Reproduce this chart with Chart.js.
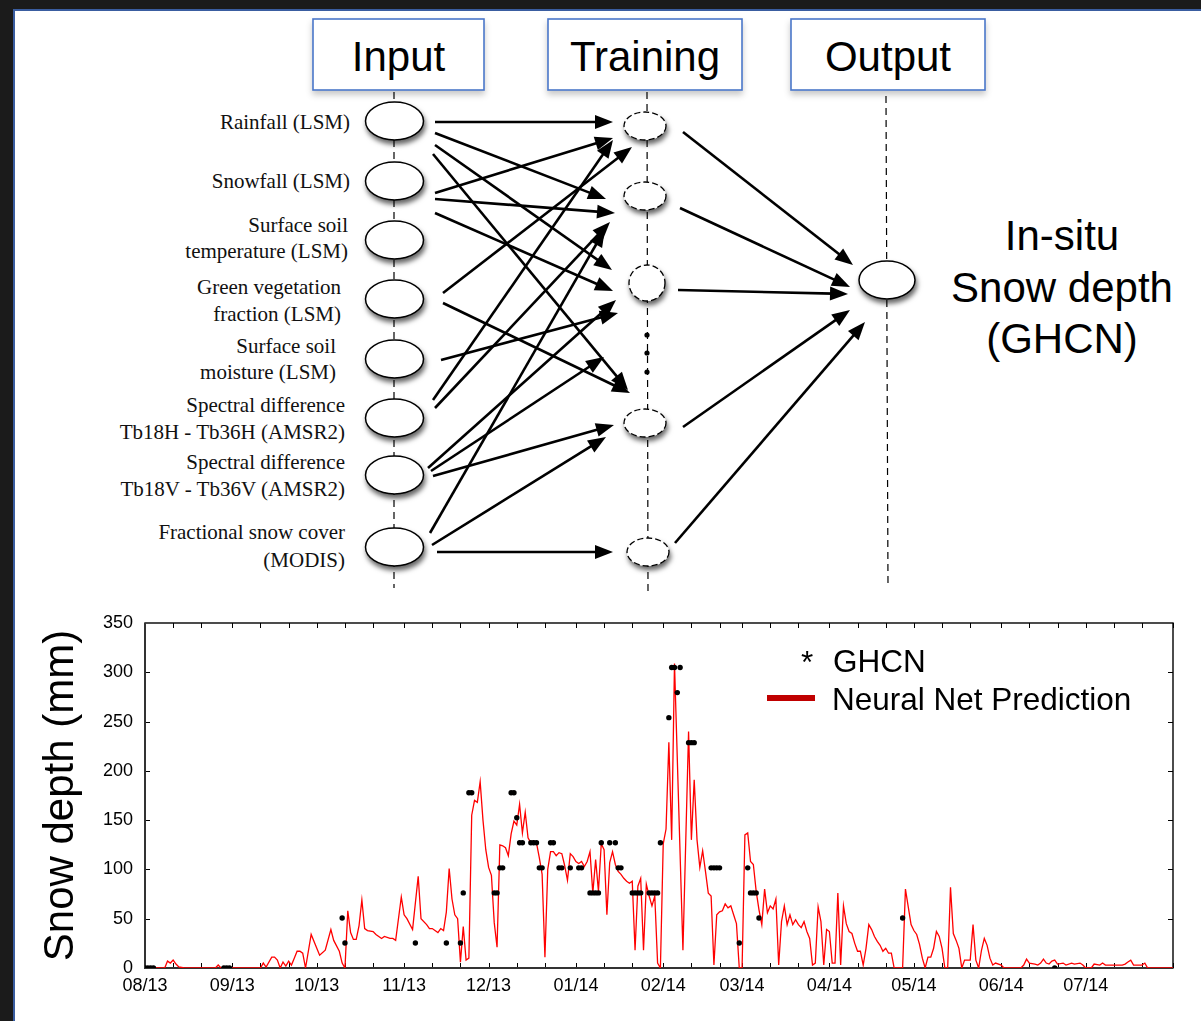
<!DOCTYPE html>
<html>
<head>
<meta charset="utf-8">
<title>Snow depth neural network</title>
<script src="https://cdn.jsdelivr.net/npm/chart.js@4.4.1/dist/chart.umd.min.js"></script>
<style>
  html, body { margin: 0; padding: 0; }
  body { width: 1201px; height: 1021px; background: #1b1b1b; position: relative; overflow: hidden; }
  #panel {
    position: absolute; left: 13px; top: 9px; width: 1188px; height: 1012px;
    background: #fff; border-top: 2px solid #3a5da0; border-left: 2px solid #3a5da0;
    box-sizing: border-box;
  }
  #diagram { position: absolute; left: 0; top: 0; }
  #chartBox { position: absolute; left: 0; top: 600px; width: 1201px; height: 421px; }
</style>
</head>
<body>
<div id="panel"></div>
<svg id="diagram" width="1201" height="600" xmlns="http://www.w3.org/2000/svg">
  <defs>
    <filter id="nodeShadow" x="-40%" y="-40%" width="180%" height="200%">
      <feDropShadow dx="1.5" dy="4" stdDeviation="2.5" flood-color="#000" flood-opacity="0.6"/>
    </filter>
    <filter id="boxShadow" x="-10%" y="-20%" width="120%" height="160%">
      <feDropShadow dx="0" dy="4" stdDeviation="3" flood-color="#000" flood-opacity="0.22"/>
    </filter>
  </defs>
</svg>
<div id="chartBox"><canvas id="snowChart"></canvas></div>

<script>
// ---- network diagram ----
const layerTitles = ['Input', 'Training', 'Output'];
const inputLabels = [
  ['Rainfall (LSM)'],
  ['Snowfall (LSM)'],
  ['Surface soil', 'temperature (LSM)'],
  ['Green vegetation', 'fraction (LSM)'],
  ['Surface soil', 'moisture (LSM)'],
  ['Spectral difference', 'Tb18H - Tb36H (AMSR2)'],
  ['Spectral difference', 'Tb18V - Tb36V (AMSR2)'],
  ['Fractional snow cover', '(MODIS)']
];
const outputLabel = ['In-situ', 'Snow depth', '(GHCN)'];

// ---- chart data: days since 2013-08-01 ----
const monthStart = [0, 31, 61, 92, 122, 153, 184, 212, 243, 273, 304, 334];
const monthLabels = ['08/13', '09/13', '10/13', '11/13', '12/13', '01/14', '02/14', '03/14', '04/14', '05/14', '06/14', '07/14'];

const predDay = [
  0, 7, 8, 9, 10, 11, 12, 14, 25, 26, 27, 41, 42, 43, 45, 46, 47, 48, 49, 50,
  51, 52, 53, 54, 55, 56, 57, 59, 62, 64, 66, 67, 69, 70, 71, 72, 73, 74, 75, 76,
  77, 78, 79, 81, 82, 84, 85, 87, 88, 89, 91, 92, 93, 95, 97, 98, 100, 101, 102, 104,
  105, 106, 107, 108, 109, 110, 111, 112, 113, 114, 115, 116, 117, 118, 119, 120, 121, 122, 123, 124,
  125, 126, 127, 128, 129, 130, 131, 132, 133, 134, 135, 136, 137, 138, 139, 140, 141, 142, 143, 144,
  145, 146, 147, 148, 149, 150, 151, 152, 153, 154, 155, 156, 157, 158, 159, 160, 161, 162, 163, 164,
  165, 166, 167, 168, 169, 170, 171, 172, 173, 174, 175, 176, 177, 178, 179, 180, 181, 182, 183, 184,
  185, 186, 187, 188, 191, 193, 194, 195, 196, 197, 198, 199, 200, 201, 202, 203, 204, 205, 206, 207,
  208, 209, 210, 211, 212, 213, 214, 215, 216, 217, 218, 219, 220, 221, 222, 223, 224, 225, 226, 227,
  228, 229, 230, 231, 232, 233, 234, 235, 236, 237, 238, 239, 240, 241, 242, 243, 244, 245, 246, 247,
  248, 249, 250, 251, 252, 253, 254, 255, 256, 257, 258, 259, 260, 261, 262, 263, 264, 265, 266, 269,
  270, 271, 272, 273, 274, 275, 276, 277, 278, 279, 280, 281, 282, 283, 284, 285, 286, 287, 288, 289,
  290, 291, 293, 294, 295, 296, 297, 298, 299, 300, 301, 302, 304, 305, 311, 312, 313, 314, 316, 317,
  318, 319, 320, 321, 322, 323, 324, 326, 327, 329, 330, 332, 333, 334, 336, 337, 339, 340, 341, 343,
  345, 347, 348, 349, 350, 351, 353, 354, 355, 356, 365
];
const predDepth = [
  0, 0, 7, 5, 8, 4, 1, 0, 0, 3, 0, 0, 5, 1, 11, 11, 8, 0, 6, 2,
  7, 3, 10, 17, 17, 15, 0, 34, 13, 18, 39, 28, 17, 5, 0, 58, 36, 29, 29, 43,
  69, 40, 38, 37, 34, 30, 32, 30, 30, 28, 72, 54, 50, 39, 93, 50, 44, 40, 40, 36,
  40, 38, 57, 101, 70, 54, 50, 6, 42, 8, 10, 155, 170, 168, 189, 150, 120, 102, 94, 46,
  21, 125, 124, 122, 114, 136, 149, 145, 166, 137, 158, 132, 127, 129, 127, 112, 95, 11, 100, 118,
  118, 114, 117, 116, 104, 89, 116, 113, 108, 106, 108, 103, 108, 118, 76, 110, 78, 126, 120, 54,
  107, 118, 105, 98, 95, 91, 88, 86, 88, 18, 83, 91, 18, 85, 73, 63, 73, 5, 0, 126,
  141, 229, 130, 309, 18, 240, 130, 191, 130, 102, 119, 98, 76, 73, 3, 54, 57, 58, 65, 61,
  63, 54, 45, 0, 0, 135, 137, 108, 105, 78, 59, 44, 80, 56, 63, 60, 70, 3, 47, 63,
  44, 54, 44, 49, 44, 41, 47, 37, 30, 3, 5, 62, 47, 3, 39, 37, 5, 5, 76, 3,
  63, 45, 37, 35, 25, 17, 17, 3, 20, 44, 39, 32, 27, 23, 17, 20, 15, 15, 0, 0,
  80, 62, 44, 38, 34, 24, 10, 0, 11, 11, 20, 37, 32, 20, 0, 0, 82, 35, 28, 20,
  0, 8, 8, 44, 8, 0, 18, 30, 23, 10, 3, 5, 3, 0, 0, 3, 9, 5, 4, 3,
  5, 9, 5, 4, 7, 8, 4, 5, 3, 5, 4, 5, 3, 0, 0, 4, 3, 5, 3, 3,
  3, 3, 4, 6, 8, 3, 3, 3, 5, 0, 0
];

const ghcnDay = [
  0, 1, 2, 3, 28, 29, 30, 70, 71, 96, 107, 112, 113, 115, 116, 124, 125, 126, 127, 130,
  131, 132, 133, 134, 137, 138, 139, 140, 141, 144, 145, 147, 148, 151, 154, 155, 158, 159, 160, 161,
  162, 165, 167, 168, 169, 173, 174, 175, 176, 179, 180, 181, 182, 183, 186, 187, 188, 189, 190, 193,
  194, 195, 201, 202, 203, 204, 211, 214, 215, 216, 217, 218, 269, 323
];
const ghcnDepth = [
  0, 0, 0, 0, 0, 0, 0, 50.8, 25.4, 25.4, 25.4, 25.4, 76.2, 177.8, 177.8, 76.2, 76.2, 101.6, 101.6, 177.8,
  177.8, 152.4, 127, 127, 127, 127, 127, 101.6, 101.6, 127, 127, 101.6, 101.6, 101.6, 101.6, 101.6, 76.2, 76.2, 76.2, 76.2,
  127, 127, 127, 101.6, 101.6, 76.2, 76.2, 76.2, 76.2, 76.2, 76.2, 76.2, 76.2, 127, 254, 304.8, 304.8, 279.4, 304.8, 228.6,
  228.6, 228.6, 101.6, 101.6, 101.6, 101.6, 25.4, 101.6, 76.2, 76.2, 76.2, 50.8, 50.8, 0
];

// ---- diagram drawing ----
const svg = document.getElementById('diagram');
const NS = 'http://www.w3.org/2000/svg';
function el(tag, attrs, text) {
  const e = document.createElementNS(NS, tag);
  for (const k in attrs) e.setAttribute(k, attrs[k]);
  if (text !== undefined) e.textContent = text;
  svg.appendChild(e);
  return e;
}

const sans = "'Liberation Sans', Arial, Helvetica, sans-serif";
const serif = "'Liberation Serif', 'Times New Roman', serif";

// layer header boxes
const boxes = [[313, 484], [548, 742], [791, 985]];
boxes.forEach(function(b, i) {
  el('rect', { x: b[0], y: 19, width: b[1] - b[0], height: 71, fill: '#fff', stroke: '#4a77c9', 'stroke-width': 1.6, filter: 'url(#boxShadow)' });
  el('text', { x: (b[0] + b[1]) / 2, y: 71, 'text-anchor': 'middle', 'font-family': sans, 'font-size': 42, fill: '#000' }, layerTitles[i]);
});

// dashed guide lines for each layer
const dash = { stroke: '#000', 'stroke-width': 1.2, 'stroke-dasharray': '7,5', fill: 'none' };
el('line', Object.assign({ x1: 394, y1: 92, x2: 394, y2: 588 }, dash));
el('line', Object.assign({ x1: 647, y1: 92, x2: 648, y2: 593 }, dash));
el('line', Object.assign({ x1: 886, y1: 96, x2: 888, y2: 586 }, dash));

// node positions
const inputY = [121, 181, 240, 299, 359, 418, 475, 547];
const trainNodes = [[645, 126, 21, 14], [645, 196, 21, 14], [647, 283, 18, 18], [645, 423, 21, 14], [648, 552, 21, 14]];
const outNode = [887, 280, 28, 19];

// arrows: input -> training, training -> output
const arrows = [
  [435, 122, 613, 122], [435, 133, 606, 199], [435, 145, 612, 270], [433, 154, 628, 390],
  [435, 193, 613, 138], [435, 199, 615, 213], [435, 213, 613, 291],
  [443, 293, 632, 147], [443, 303, 630, 393],
  [441, 360, 618, 313],
  [433, 400, 613, 140], [435, 408, 610, 222],
  [428, 468, 616, 300], [431, 471, 604, 357], [433, 476, 614, 425],
  [430, 533, 605, 229], [432, 545, 606, 437], [437, 552, 613, 552],
  [683, 132, 853, 265], [680, 208, 850, 287], [678, 290, 848, 294], [683, 427, 850, 310], [675, 543, 865, 322]
];
arrows.forEach(function(a) {
  const dx = a[2] - a[0], dy = a[3] - a[1];
  const len = Math.hypot(dx, dy), ux = dx / len, uy = dy / len;
  const hl = 18, hw = 7;
  const bx = a[2] - ux * hl, by = a[3] - uy * hl;
  el('line', { x1: a[0], y1: a[1], x2: bx + ux * 3, y2: by + uy * 3, stroke: '#000', 'stroke-width': 2.6 });
  el('polygon', { points: [a[2], a[3], bx - uy * hw, by + ux * hw, bx + uy * hw, by - ux * hw].join(','), fill: '#000' });
});

// input nodes and labels
inputY.forEach(function(y, i) {
  el('ellipse', { cx: 394.5, cy: y, rx: 29, ry: 19, fill: '#fff', stroke: '#000', 'stroke-width': 1.5, filter: 'url(#nodeShadow)' });
});
const labelRight = [350, 350, 348, 341, 336, 345, 345, 345];
const labelRows = [[123], [182], [226, 252], [288, 315], [347, 373], [406, 433], [463, 490], [533, 561]];
inputLabels.forEach(function(lines, i) {
  lines.forEach(function(t, j) {
    el('text', { x: labelRight[i], y: labelRows[i][j] + 6, 'text-anchor': 'end', 'font-family': serif, 'font-size': 21, fill: '#111' }, t);
  });
});

// hidden layer nodes
trainNodes.forEach(function(n) {
  el('ellipse', { cx: n[0], cy: n[1], rx: n[2], ry: n[3], fill: '#fff', stroke: '#000', 'stroke-width': 1.3, 'stroke-dasharray': '6,3', filter: 'url(#nodeShadow)' });
});
[335, 353, 372].forEach(function(y) {
  el('circle', { cx: 647, cy: y, r: 2.6, fill: '#000' });
});

// output node and label
el('ellipse', { cx: outNode[0], cy: outNode[1], rx: outNode[2], ry: outNode[3], fill: '#fff', stroke: '#000', 'stroke-width': 1.5, filter: 'url(#nodeShadow)' });
[250, 302, 353].forEach(function(y, i) {
  el('text', { x: 1062, y: y, 'text-anchor': 'middle', 'font-family': sans, 'font-size': 42, fill: '#000' }, outputLabel[i]);
});

// ---- snow depth chart ----
Chart.defaults.font.family = sans;
Chart.defaults.color = '#000';

const minorTicks = [];
monthStart.concat([365]).forEach(function(d, i) {
  minorTicks.push(d);
  if (i < monthStart.length) { minorTicks.push(d + 10, d + 20); }
});

// gnuplot-style frame with inward tick marks
const framePlugin = {
  id: 'frame',
  beforeDatasetsDraw(chart) {
    const { ctx, chartArea: a, scales: { x, y } } = chart;
    ctx.save();
    ctx.strokeStyle = '#000';
    ctx.lineWidth = 1;
    ctx.beginPath();
    minorTicks.forEach(function(d) {
      const px = Math.round(x.getPixelForValue(d)) + 0.5;
      ctx.moveTo(px, a.top); ctx.lineTo(px, a.top + 5);
      ctx.moveTo(px, a.bottom); ctx.lineTo(px, a.bottom - 5);
    });
    for (let v = 50; v < 350; v += 50) {
      const py = Math.round(y.getPixelForValue(v)) + 0.5;
      ctx.moveTo(a.left, py); ctx.lineTo(a.left + 5, py);
      ctx.moveTo(a.right, py); ctx.lineTo(a.right - 5, py);
    }
    ctx.stroke();
    ctx.lineWidth = 1.4;
    ctx.strokeRect(a.left, a.top, a.right - a.left, a.bottom - a.top);
    ctx.lineWidth = 2;
    ctx.strokeStyle = '#333';
    ctx.beginPath();
    ctx.moveTo(a.left, a.top); ctx.lineTo(a.left, a.bottom); ctx.lineTo(a.right, a.bottom);
    ctx.stroke();
    ctx.restore();
  },
  afterDraw(chart) {
    const ctx = chart.ctx;
    ctx.save();
    ctx.fillStyle = '#000';
    ctx.font = '31.5px ' + sans;
    ctx.textBaseline = 'alphabetic';
    ctx.fillText('*', 801, 73);
    ctx.fillText('GHCN', 833, 72);
    ctx.fillText('Neural Net Prediction', 832, 110);
    ctx.fillStyle = '#c00000';
    ctx.fillRect(767, 95, 48, 6);
    ctx.restore();
  }
};

new Chart(document.getElementById('snowChart'), {
  type: 'scatter',
  data: {
    datasets: [
      {
        label: 'GHCN',
        data: ghcnDay.map(function(d, i) { return { x: d, y: ghcnDepth[i] }; }),
        pointRadius: 2.7,
        pointBackgroundColor: '#000',
        pointBorderWidth: 0,
        order: 0
      },
      {
        label: 'Neural Net Prediction',
        data: predDay.map(function(d, i) { return { x: d, y: predDepth[i] }; }),
        showLine: true,
        borderColor: '#ff0000',
        borderWidth: 1.3,
        pointRadius: 0,
        tension: 0,
        order: 1
      }
    ]
  },
  options: {
    responsive: true,
    maintainAspectRatio: false,
    animation: false,
    layout: { padding: { left: 0, right: 28, top: 23, bottom: 0 } },
    plugins: { legend: { display: false }, tooltip: { enabled: false } },
    scales: {
      x: {
        type: 'linear', min: 0, max: 365,
        grid: { display: false, drawTicks: false },
        border: { display: false },
        afterBuildTicks: function(scale) { scale.ticks = monthStart.map(function(v) { return { value: v }; }); },
        afterFit: function(scale) { scale.height = 53; },
        ticks: {
          padding: 7, maxRotation: 0, autoSkip: false,
          font: { size: 18 },
          callback: function(v) { const i = monthStart.indexOf(v); return i >= 0 ? monthLabels[i] : ''; }
        }
      },
      y: {
        min: 0, max: 350,
        grid: { display: false, drawTicks: false },
        border: { display: false },
        afterFit: function(scale) { scale.width = 145; },
        ticks: { stepSize: 50, padding: 12, font: { size: 18 } },
        title: { display: true, text: 'Snow depth (mm)', font: { size: 42 }, padding: { top: 36, bottom: 0 } }
      }
    }
  },
  plugins: [framePlugin]
});
</script>
</body>
</html>
